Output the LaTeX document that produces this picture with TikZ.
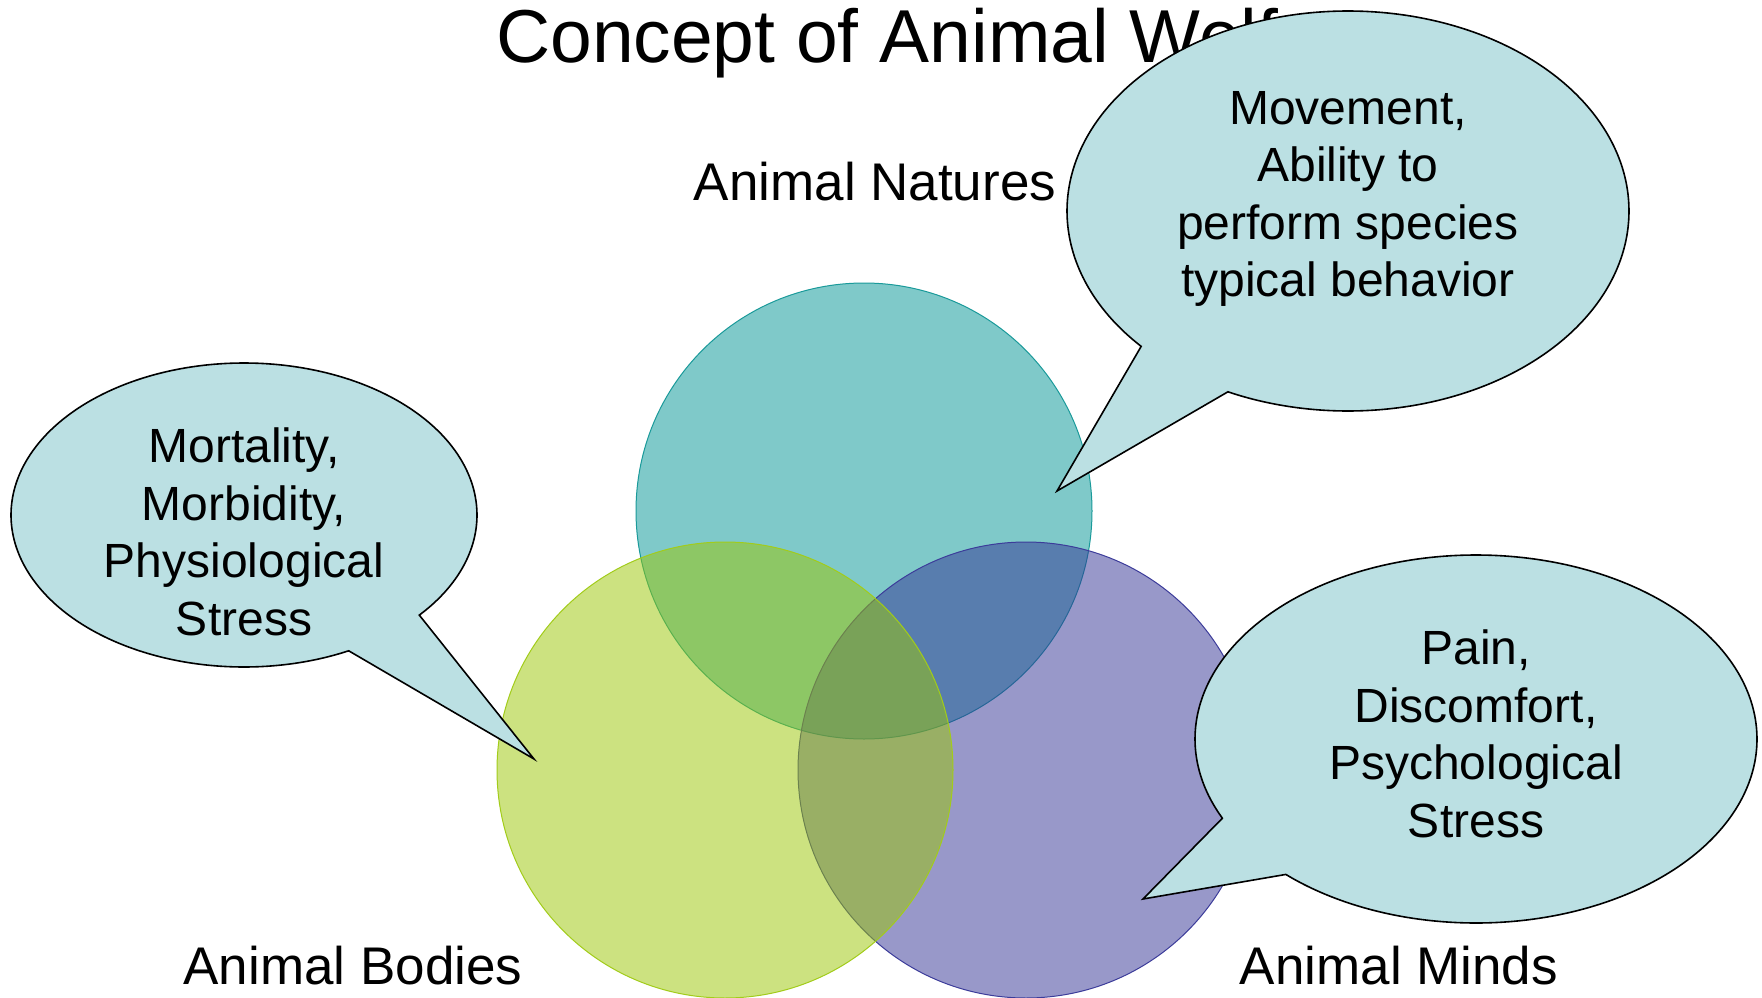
\documentclass[tikz,border=0pt]{standalone}
\usepackage{fontspec}
\setmainfont{Liberation Sans}
\definecolor{tealbase}{HTML}{009595}
\definecolor{tealline}{HTML}{1A9A9A}
\definecolor{greenbase}{HTML}{9BC703}
\definecolor{greenline}{HTML}{A2CC1A}
\definecolor{purplebase}{HTML}{333395}
\definecolor{purpleline}{HTML}{3C3C9A}
\definecolor{bubblefill}{HTML}{BBE0E3}
\begin{document}
\begin{tikzpicture}[x=1pt,y=-1pt,
  venn/.style={fill opacity=0.5, line width=1pt},
  bubble/.style={fill=bubblefill, draw=black, line width=1.6pt, line join=miter},
  bubbletext/.style={align=center, font=\fontsize{48}{57.6}\selectfont, text=black, inner sep=0pt},
  setlabel/.style={font=\fontsize{53}{60}\selectfont, inner sep=0pt}]
\useasboundingbox (0,0) rectangle (1762,998);
\fill[white] (0,0) rectangle (1762,998);
% title
\node[anchor=base west, font=\fontsize{75}{80}\selectfont, inner sep=0pt] (title) at (496,63) {Concept of Animal Welfare};
% venn circles
\draw[venn, fill=tealbase, draw=tealline] (864,511) circle [radius=228pt];
\draw[venn, fill=purplebase, draw=purpleline] (1026,770) circle [radius=228pt];
\draw[venn, fill=greenbase, draw=greenline] (725,770) circle [radius=228pt];
% set labels
\node[setlabel, anchor=base] (natures) at (875,200) {Animal Natures};
\node[setlabel, anchor=base] (bodies) at (353,984) {Animal Bodies};
\node[setlabel, anchor=base] (minds) at (1399,984) {Animal Minds};
% callouts
\coordinate (tipTR) at (1057,491);
\coordinate (tipL) at (534,759);
\coordinate (tipBR) at (1143,899);
\draw[bubble] (tipTR) -- plot[domain=137.4:475.3, samples=160, smooth] ({1348+281*cos(\x)},{211+200*sin(\x)}) -- cycle;
\draw[bubble] (tipL) -- plot[domain=63.3:401.2, samples=160, smooth] ({244+233*cos(\x)},{515+152*sin(\x)}) -- cycle;
\draw[bubble] (tipBR) -- plot[domain=154.5:492.6, samples=160, smooth] ({1476+281*cos(\x)},{739+184*sin(\x)}) -- cycle;
\node[bubbletext] (tTR) at (1348,199) {Movement,\\Ability to\\perform species\\typical behavior};
\node[bubbletext] (tL) at (244,532) {Mortality,\\Morbidity,\\Physiological\\Stress};
\node[bubbletext] (tBR) at (1476,734) {Pain,\\Discomfort,\\Psychological\\Stress};
\end{tikzpicture}
\end{document}
